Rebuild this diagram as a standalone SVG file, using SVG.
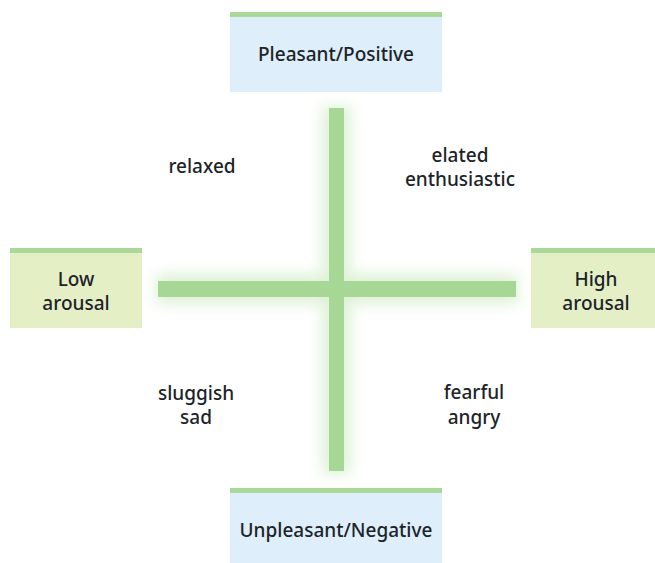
<svg xmlns="http://www.w3.org/2000/svg" width="655" height="563" viewBox="0 0 655 563">
<defs>
<filter id="glow" x="-50%" y="-50%" width="200%" height="200%"><feGaussianBlur stdDeviation="7"/></filter>
<style>
.t{font-family:"Noto Sans","Open Sans",sans-serif;font-size:19px;font-weight:500;fill:#1c2329;text-anchor:middle}
.blue{fill:#deeffb}
.yel{fill:#e5efc6}
.bar{fill:#a9d897}
.axis{fill:#a6d795}
</style>
</defs>
<rect width="655" height="563" fill="#ffffff"/>
<g id="connectors">
<g filter="url(#glow)" opacity="0.55">
<rect x="322" y="106" width="29" height="368" fill="#c4e6b6"/>
<rect x="156" y="274" width="362" height="30" fill="#c4e6b6"/>
</g>
<rect class="axis" x="329" y="108" width="15" height="363"/>
<rect class="axis" x="158" y="281" width="358" height="16"/>
</g>
<g id="pleasant">
<rect class="blue" x="230" y="17" width="212" height="75"/>
<rect class="bar" x="230" y="12" width="212" height="5"/>
<text class="t" x="336" y="61">Pleasant/Positive</text>
</g>
<g id="unpleasant">
<rect class="blue" x="230" y="493" width="212" height="70"/>
<rect class="bar" x="230" y="488" width="212" height="5"/>
<text class="t" x="336" y="537">Unpleasant/Negative</text>
</g>
<g id="low">
<rect class="yel" x="10" y="253" width="132" height="75"/>
<rect class="bar" x="10" y="248" width="132" height="5"/>
<text class="t" x="76" y="286">Low</text>
<text class="t" x="76" y="310">arousal</text>
</g>
<g id="high">
<rect class="yel" x="531" y="253" width="124" height="75"/>
<rect class="bar" x="531" y="248" width="124" height="5"/>
<text class="t" x="596" y="286">High</text>
<text class="t" x="596" y="310">arousal</text>
</g>
<g id="relaxed"><text class="t" x="202" y="173">relaxed</text></g>
<g id="elated"><text class="t" x="460" y="162">elated</text><text class="t" x="460" y="186">enthusiastic</text></g>
<g id="sluggish"><text class="t" x="196" y="400">sluggish</text><text class="t" x="196" y="424">sad</text></g>
<g id="fearful"><text class="t" x="474" y="399">fearful</text><text class="t" x="474" y="424">angry</text></g>
</svg>
